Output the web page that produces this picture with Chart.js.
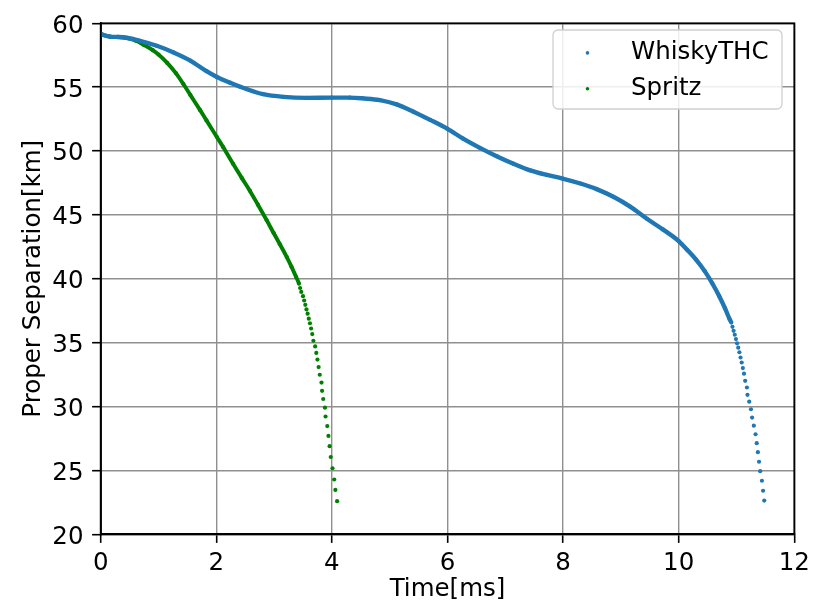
<!DOCTYPE html>
<html>
<head>
<meta charset="utf-8">
<script src="https://cdn.jsdelivr.net/npm/chart.js@4.4.1/dist/chart.umd.min.js"></script>
<style>
  html, body { margin: 0; padding: 0; background: #fff; }
  #wrap { width: 820px; height: 604px; }
</style>
</head>
<body>
<div id="wrap"><canvas id="myChart" width="820" height="604"></canvas></div>
<script>
// WhiskyTHC: continuous part of the run, then the sparse samples at the end
const whiskyTime = [0, 0.16, 0.3, 0.45, 0.68, 0.97, 1.26, 1.55, 1.83, 2.01, 2.24, 2.53, 2.81, 3.16, 3.56, 4.0, 4.31, 4.54, 4.83, 5.12, 5.41, 5.7, 6.0, 6.27, 6.56, 6.85, 7.14, 7.43, 7.72, 7.99, 8.3, 8.58, 8.87, 9.16, 9.45, 9.73, 10.0, 10.15, 10.3, 10.45, 10.58, 10.7, 10.8, 10.88];
const whiskyDist = [59.15, 58.96, 58.93, 58.87, 58.63, 58.24, 57.72, 57.08, 56.25, 55.8, 55.35, 54.84, 54.45, 54.24, 54.16, 54.18, 54.18, 54.12, 53.99, 53.65, 53.08, 52.44, 51.74, 50.97, 50.25, 49.6, 49.01, 48.49, 48.13, 47.85, 47.46, 47.02, 46.42, 45.65, 44.7, 43.85, 42.95, 42.25, 41.5, 40.6, 39.65, 38.65, 37.7, 36.85];
const whiskyTailTime = [10.91, 10.93, 10.95, 10.97, 10.99, 11.01, 11.03, 11.05, 11.07, 11.09, 11.11, 11.13, 11.15, 11.18, 11.19, 11.22, 11.25, 11.27, 11.3, 11.33, 11.35, 11.37, 11.39, 11.41, 11.44, 11.46, 11.48];
const whiskyTailDist = [36.57, 36.24, 35.93, 35.62, 35.28, 34.95, 34.61, 34.25, 33.84, 33.45, 33.01, 32.57, 32.01, 31.49, 30.92, 30.38, 29.79, 29.14, 28.5, 27.83, 27.13, 26.43, 25.68, 24.94, 24.19, 23.41, 22.64];

// Spritz
const spritzTime = [0, 0.16, 0.3, 0.45, 0.6, 0.75, 0.9, 1.0, 1.15, 1.3, 1.43, 1.55, 1.72, 1.83, 2.01, 2.12, 2.29, 2.44, 2.58, 2.72, 2.87, 2.99, 3.1, 3.22, 3.3, 3.38];
const spritzDist = [59.15, 58.96, 58.93, 58.85, 58.65, 58.3, 57.9, 57.55, 56.9, 56.1, 55.25, 54.4, 53.2, 52.4, 51.1, 50.3, 49.0, 47.9, 46.9, 45.8, 44.6, 43.6, 42.7, 41.7, 40.95, 40.15];
const spritzTailTime = [3.43, 3.45, 3.47, 3.5, 3.52, 3.54, 3.56, 3.58, 3.6, 3.62, 3.64, 3.66, 3.68, 3.71, 3.73, 3.75, 3.77, 3.79, 3.82, 3.83, 3.85, 3.88, 3.89, 3.92, 3.94, 3.96, 3.98, 4.01, 4.04, 4.06, 4.09];
const spritzTailDist = [39.62, 39.28, 38.97, 38.64, 38.3, 37.96, 37.6, 37.27, 36.88, 36.52, 36.11, 35.67, 35.15, 34.71, 34.2, 33.68, 33.09, 32.49, 31.88, 31.23, 30.59, 29.91, 29.22, 28.47, 27.7, 26.9, 26.05, 25.17, 24.29, 23.47, 22.59];

const xTicks = [0, 2, 4, 6, 8, 10, 12];
const yTicks = [20, 25, 30, 35, 40, 45, 50, 55, 60];

const BLUE = '#1f77b4';
const GREEN = '#008000';
const FONT = 'DejaVu Sans';
const FONT_SIZE = 24.5;

function toPoints(xs, ys) {
    return xs.map((x, i) => ({ x: x, y: ys[i] }));
}

// dense samples are drawn as a band, the tail only as separate dots
function makeSeries(label, color, band, t, d, tailT, tailD) {
    const bandEnd = t.length;
    return {
        label: label,
        data: toPoints(t.concat(tailT), d.concat(tailD)),
        showLine: true,
        borderColor: color,
        backgroundColor: color,
        borderWidth: band,
        pointRadius: 2.1,
        pointBorderWidth: 0,
        cubicInterpolationMode: 'monotone',
        segment: {
            borderColor: ctx => ctx.p1DataIndex > bandEnd ? 'transparent' : color
        }
    };
}

const frame = {
    id: 'frame',
    afterDatasetsDraw(chart) {
        const a = chart.chartArea, ctx = chart.ctx;
        ctx.save();
        ctx.strokeStyle = '#000';
        ctx.lineWidth = 1.8;
        ctx.strokeRect(a.left, a.top, a.right - a.left, a.bottom - a.top);
        ctx.restore();
    }
};

// boxed legend in the upper right of the plot
const boxLegend = {
    id: 'boxLegend',
    afterDraw(chart) {
        const ctx = chart.ctx;
        const x = 553, y = 30, w = 229, h = 79;
        ctx.save();
        ctx.beginPath();
        ctx.roundRect(x, y, w, h, 5);
        ctx.fillStyle = 'rgba(255,255,255,0.85)';
        ctx.fill();
        ctx.strokeStyle = '#d0d0d0';
        ctx.lineWidth = 1.3;
        ctx.stroke();
        ctx.font = FONT_SIZE + 'px "' + FONT + '"';
        ctx.textBaseline = 'middle';
        chart.data.datasets.forEach((ds, i) => {
            const cy = 52.4 + i * 35.8;
            ctx.fillStyle = ds.backgroundColor;
            ctx.beginPath();
            ctx.arc(587.5, cy + 0.5, 1.8, 0, Math.PI * 2);
            ctx.fill();
            ctx.fillStyle = '#000';
            ctx.fillText(ds.label, 631, cy);
        });
        ctx.restore();
    }
};

const config = {
    type: 'scatter',
    data: {
        datasets: [
            makeSeries('WhiskyTHC', BLUE, 4.4, whiskyTime, whiskyDist, whiskyTailTime, whiskyTailDist),
            makeSeries('Spritz', GREEN, 3.9, spritzTime, spritzDist, spritzTailTime, spritzTailDist)
        ]
    },
    options: {
        responsive: false,
        animation: false,
        layout: { padding: { left: 0, top: 17.3, right: 25.7, bottom: 0 } },
        plugins: {
            legend: { display: false },
            tooltip: { enabled: false }
        },
        scales: {
            x: {
                type: 'linear',
                min: 0,
                max: 12,
                afterFit: s => { s.height = 69.7; },
                afterBuildTicks: s => { s.ticks = xTicks.map(v => ({ value: v })); },
                ticks: { color: '#000', font: { family: FONT, size: FONT_SIZE }, padding: 6 },
                grid: { color: '#8f8f8f', lineWidth: 1.4, tickColor: '#000', tickLength: 8.6, tickWidth: 1.6 },
                border: { color: '#000', width: 1.8 },
                title: {
                    display: true,
                    text: 'Time[ms]',
                    color: '#000',
                    font: { family: FONT, size: FONT_SIZE },
                    padding: { top: 0, bottom: 0 }
                }
            },
            y: {
                type: 'linear',
                min: 20,
                max: 60,
                afterFit: s => { s.width = 100.7; },
                afterBuildTicks: s => { s.ticks = yTicks.map(v => ({ value: v })); },
                ticks: { color: '#000', font: { family: FONT, size: FONT_SIZE }, padding: 8.6, labelOffset: 3 },
                grid: { color: '#8f8f8f', lineWidth: 1.4, tickColor: '#000', tickLength: 8.6, tickWidth: 1.6 },
                border: { color: '#000', width: 1.8 },
                title: {
                    display: true,
                    text: 'Proper Separation[km]',
                    color: '#000',
                    font: { family: FONT, size: FONT_SIZE },
                    padding: { top: 19.3, bottom: 0 }
                }
            }
        }
    },
    plugins: [frame, boxLegend]
};

var myChart = new Chart(document.getElementById('myChart'), config);
</script>
</body>
</html>
